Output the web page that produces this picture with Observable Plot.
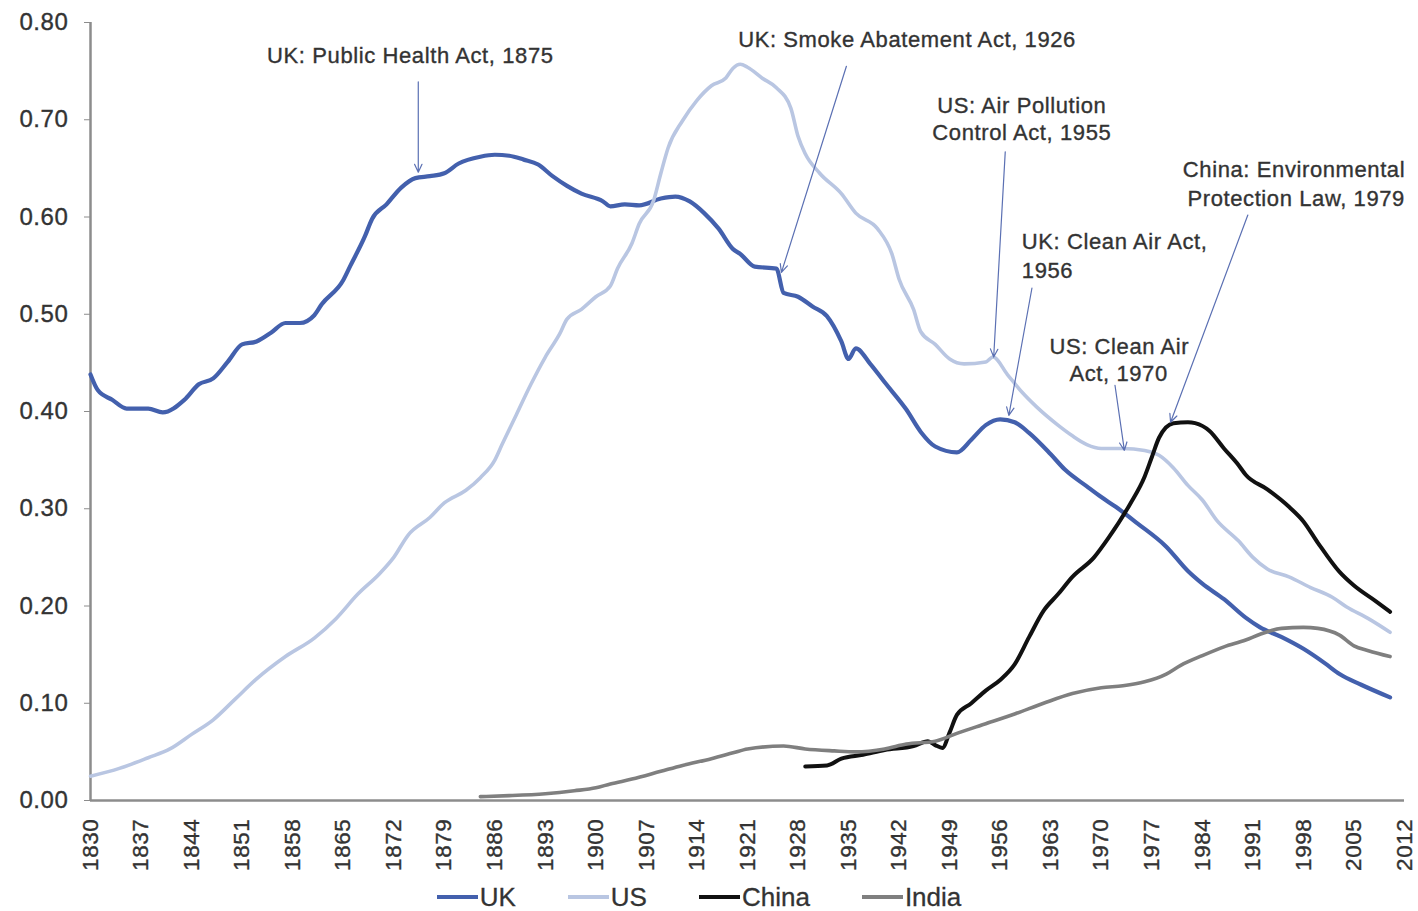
<!DOCTYPE html>
<html><head><meta charset="utf-8">
<script src="https://cdn.jsdelivr.net/npm/d3@7"></script>
<script src="https://cdn.jsdelivr.net/npm/@observablehq/plot@0.6"></script>
<style>
body{margin:0;background:#fff;font-family:"Liberation Sans",Arial,sans-serif;}
#chart{position:relative;width:1418px;height:911px;overflow:hidden;}
#chart svg text{letter-spacing:0.6px;stroke:#333;stroke-width:0.35px;}
.legend{position:absolute;top:879px;left:0;width:1398px;height:36px;display:flex;justify-content:center;align-items:center;gap:52px;}
.item{display:flex;align-items:center;font-size:26px;color:#333;-webkit-text-stroke:0.3px #333;}
.sw{width:41px;height:4px;margin-right:2px;}
</style></head><body><div id="chart"></div>
<script>
// ---- data ----
const ukYears = [1830,1831,1833,1835,1838,1840,1843,1845,1847,1849,1851,1853,1855,1857,1859,1861,1862,1865,1866,1868,1869,1871,1873,1875,1877,1879,1881,1884,1886,1888,1890,1892,1894,1896,1898,1901,1902,1904,1906,1909,1911,1913,1915,1917,1919,1920,1922,1925,1926,1928,1930,1932,1934,1935,1936,1938,1940,1943,1945,1947,1950,1952,1954,1956,1958,1960,1963,1965,1968,1970,1972,1975,1979,1982,1984,1987,1990,1992,1995,1998,2001,2003,2006,2010];
const ukValues = [0.438,0.422,0.412,0.403,0.403,0.399,0.412,0.428,0.434,0.451,0.469,0.472,0.481,0.491,0.491,0.499,0.510,0.535,0.550,0.580,0.598,0.613,0.630,0.640,0.642,0.645,0.655,0.662,0.664,0.663,0.659,0.654,0.642,0.632,0.624,0.616,0.611,0.613,0.612,0.619,0.621,0.616,0.604,0.588,0.567,0.562,0.549,0.547,0.522,0.518,0.508,0.498,0.472,0.454,0.465,0.449,0.430,0.402,0.379,0.364,0.358,0.371,0.386,0.392,0.389,0.378,0.356,0.340,0.323,0.312,0.302,0.285,0.261,0.236,0.223,0.207,0.188,0.178,0.168,0.156,0.141,0.130,0.119,0.106];

const usYears = [1830,1834,1838,1841,1844,1847,1850,1853,1857,1861,1864,1867,1870,1872,1874,1877,1879,1882,1884,1886,1887,1889,1891,1893,1895,1896,1898,1900,1902,1903,1905,1906,1908,1909,1910,1912,1914,1916,1918,1919,1920,1921,1923,1925,1927,1928,1929,1931,1934,1936,1939,1941,1942,1944,1945,1947,1949,1951,1954,1955,1957,1959,1961,1964,1966,1968,1970,1973,1976,1978,1980,1982,1984,1986,1989,1991,1993,1996,1999,2002,2004,2007,2010];
const usValues = [0.025,0.033,0.044,0.053,0.068,0.083,0.104,0.125,0.148,0.167,0.187,0.212,0.233,0.250,0.273,0.291,0.306,0.319,0.332,0.350,0.366,0.397,0.428,0.456,0.480,0.495,0.505,0.518,0.529,0.547,0.573,0.593,0.617,0.645,0.671,0.699,0.720,0.735,0.743,0.753,0.757,0.754,0.743,0.733,0.712,0.683,0.665,0.645,0.624,0.604,0.588,0.562,0.536,0.505,0.482,0.469,0.454,0.449,0.451,0.456,0.438,0.420,0.405,0.386,0.375,0.366,0.362,0.362,0.360,0.355,0.342,0.324,0.309,0.288,0.267,0.250,0.238,0.230,0.219,0.209,0.199,0.187,0.173];

const chinaYears = [1929,1932,1934,1937,1940,1944,1946,1947,1948,1949,1950,1952,1954,1956,1958,1960,1962,1964,1966,1969,1971,1974,1976,1977,1978,1980,1982,1983,1985,1987,1989,1990,1993,1996,1998,2000,2003,2005,2008,2010];
const chinaValues = [0.035,0.036,0.043,0.047,0.052,0.056,0.061,0.057,0.054,0.070,0.088,0.100,0.113,0.124,0.140,0.168,0.195,0.212,0.230,0.250,0.270,0.305,0.333,0.353,0.373,0.388,0.389,0.388,0.380,0.362,0.345,0.335,0.320,0.302,0.287,0.265,0.235,0.221,0.205,0.194];

const indiaYears = [1884,1888,1893,1897,1900,1902,1905,1909,1912,1916,1919,1921,1926,1929,1933,1936,1940,1943,1947,1950,1954,1958,1962,1966,1970,1973,1976,1979,1981,1984,1987,1990,1992,1995,1998,2000,2003,2005,2007,2010];
const indiaValues = [0.004,0.005,0.007,0.010,0.013,0.017,0.022,0.030,0.036,0.043,0.049,0.053,0.056,0.053,0.051,0.050,0.053,0.058,0.061,0.069,0.079,0.089,0.100,0.110,0.116,0.118,0.122,0.130,0.139,0.149,0.158,0.165,0.171,0.177,0.178,0.177,0.170,0.159,0.154,0.148];

const seriesNames = ["UK","US","China","India"];
const seriesColors = ["#4360ad","#b9c6e2","#111111","#7f7f7f"];
const xTicks = [1830,1837,1844,1851,1858,1865,1872,1879,1886,1893,1900,1907,1914,1921,1928,1935,1942,1949,1956,1963,1970,1977,1984,1991,1998,2005,2012];
const yTicks = [0,0.1,0.2,0.3,0.4,0.5,0.6,0.7,0.8];

// annotation labels: text lines with anchor point (year, value)
const noteCenterText = ["UK: Public Health Act, 1875","UK: Smoke Abatement Act, 1926","US: Air Pollution","Control Act, 1955","China: Environmental","Protection Law, 1979","US: Clean Air","Act, 1970"];
const noteCenterYear = [1874.3,1943.1,1959.0,1959.0,1996.7,1997.0,1972.5,1972.4];
const noteCenterValue = [0.766,0.782,0.714,0.686,0.648,0.619,0.466,0.439];
const noteLeftText = ["UK: Clean Air Act,","1956"];
const noteLeftYear = [1959.0,1959.0];
const noteLeftValue = [0.574,0.545];
// arrows: from (year1,value1) to (year2,value2)
const arrowYear1 = [1875.4,1934.7,1956.7,1990.3,1960.4,1971.9];
const arrowValue1 = [0.739,0.755,0.667,0.602,0.527,0.427];
const arrowYear2 = [1875.4,1925.7,1955.1,1979.6,1957.2,1973.2];
const arrowValue2 = [0.646,0.543,0.456,0.389,0.396,0.360];

// ---- build tables ----
const mk = (name, ys, vs) => ys.map((y, i) => ({series: name, year: y, value: vs[i]}));
const rows = [
  ...mk("UK", ukYears, ukValues),
  ...mk("US", usYears, usValues),
  ...mk("China", chinaYears, chinaValues),
  ...mk("India", indiaYears, indiaValues)
];
const centerNotes = noteCenterText.map((t, i) => ({text: t, year: noteCenterYear[i], value: noteCenterValue[i]}));
const leftNotes = noteLeftText.map((t, i) => ({text: t, year: noteLeftYear[i], value: noteLeftValue[i]}));
const arrows = arrowYear1.map((y, i) => ({x1: y, y1: arrowValue1[i], x2: arrowYear2[i], y2: arrowValue2[i]}));
const widths = {UK: 4.2, US: 3.6, China: 4, India: 3.6};

const plot = Plot.plot({
  width: 1418,
  height: 875,
  marginLeft: 90,
  marginRight: 14,
  marginTop: 22,
  marginBottom: 75,
  style: {fontFamily: "'Liberation Sans', Arial, sans-serif", color: "#333", background: "#fff"},
  x: {domain: [1830, 2012]},
  y: {domain: [0, 0.8]},
  color: {domain: seriesNames, range: seriesColors},
  marks: [
    Plot.axisY({ticks: yTicks, tickFormat: d3.format(".2f"), tickSize: 6, tickPadding: 16, label: null, fontSize: 24, stroke: "#8c8c8c", fill: "#333"}),
    Plot.axisX({ticks: xTicks, tickFormat: d => String(d), tickRotate: -90, tickSize: 0, tickPadding: 18, label: null, fontSize: 22.5, fill: "#333"}),
    Plot.ruleX([1830], {stroke: "#8c8c8c", strokeWidth: 2.5}),
    Plot.ruleY([0], {stroke: "#8c8c8c", strokeWidth: 2.5}),
    ...seriesNames.map(s => Plot.line(rows.filter(d => d.series === s), {
      x: "year", y: "value", stroke: "series", strokeWidth: widths[s], curve: "monotone-x", strokeLinejoin: "round", strokeLinecap: "round"
    })),
    Plot.arrow(arrows, {x1: "x1", y1: "y1", x2: "x2", y2: "y2", stroke: "#5b70b3", strokeWidth: 1.2, headLength: 11, headAngle: 50}),
    Plot.text(centerNotes, {x: "year", y: "value", text: "text", textAnchor: "middle", fontSize: 22, fill: "#333"}),
    Plot.text(leftNotes, {x: "year", y: "value", text: "text", textAnchor: "start", fontSize: 22, fill: "#333"})
  ]
});

const chart = document.getElementById("chart");
chart.appendChild(plot);
const legend = document.createElement("div");
legend.className = "legend";
seriesNames.forEach((s, i) => {
  const it = document.createElement("div");
  it.className = "item";
  const sw = document.createElement("span");
  sw.className = "sw";
  sw.style.background = seriesColors[i];
  it.appendChild(sw);
  it.appendChild(document.createTextNode(s));
  legend.appendChild(it);
});
chart.appendChild(legend);
</script>
</body></html>
